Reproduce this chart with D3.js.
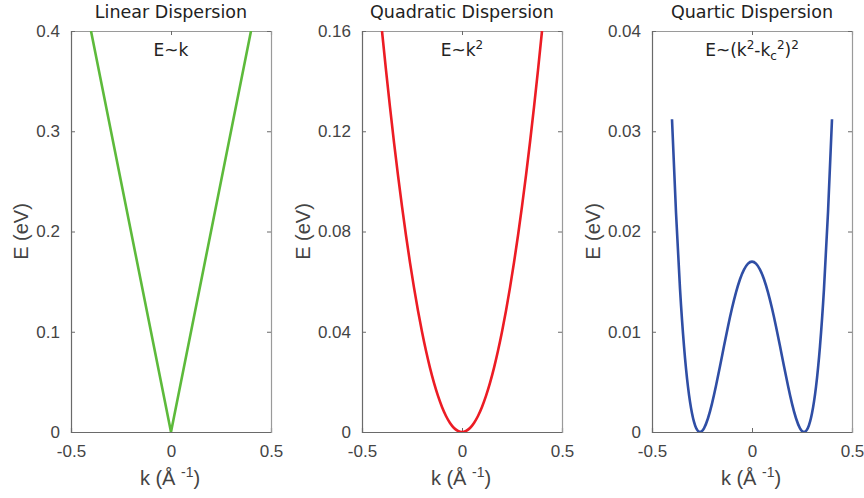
<!DOCTYPE html>
<html><head><meta charset="utf-8">
<script src="https://cdn.jsdelivr.net/npm/d3@7"></script>
<style>body{margin:0;background:#fff}svg{display:block}</style>
</head><body><svg id="c" width="864" height="498"></svg>
<script>
// ---- data ----
const xTicks = [-0.5, 0, 0.5];
const linK = [-0.4, 0, 0.4];
const linE = [0.4, 0, 0.4];
const linYTicks = [0, 0.1, 0.2, 0.3, 0.4];

const quadK = [-0.4,-0.38,-0.36,-0.34,-0.32,-0.3,-0.28,-0.26,-0.24,-0.22,-0.2,-0.18,-0.16,-0.14,-0.12,-0.1,-0.08,-0.06,-0.04,-0.02,0,
               0.02,0.04,0.06,0.08,0.1,0.12,0.14,0.16,0.18,0.2,0.22,0.24,0.26,0.28,0.3,0.32,0.34,0.36,0.38,0.4];
const quadE = [0.16,0.1444,0.1296,0.1156,0.1024,0.09,0.0784,0.0676,0.0576,0.0484,0.04,0.0324,0.0256,0.0196,0.0144,0.01,0.0064,0.0036,0.0016,0.0004,0,
               0.0004,0.0016,0.0036,0.0064,0.01,0.0144,0.0196,0.0256,0.0324,0.04,0.0484,0.0576,0.0676,0.0784,0.09,0.1024,0.1156,0.1296,0.1444,0.16];
const quadYTicks = [0, 0.04, 0.08, 0.12, 0.16];

const quartK = quadK;
const quartE = [0.0312,0.0219,0.0143,0.00857,0.0045,0.00187,0.00043,0,0.00037,0.00137,0.00283,0.00461,0.00656,0.00857,0.01053,0.01234,0.01393,0.01524,0.0162,0.0168,0.0170,
                0.0168,0.0162,0.01524,0.01393,0.01234,0.01053,0.00857,0.00656,0.00461,0.00283,0.00137,0.00037,0,0.00043,0.00187,0.0045,0.00857,0.0143,0.0219,0.0312];
const quartYTicks = [0, 0.01, 0.02, 0.03, 0.04];

const panels = [
  {title: "Linear Dispersion", k: linK, e: linE, yMax: 0.4, yTicks: linYTicks, color: "#5dba3b", ann: "lin", curve: d3.curveLinear},
  {title: "Quadratic Dispersion", k: quadK, e: quadE, yMax: 0.16, yTicks: quadYTicks, color: "#ec1c24", ann: "quad", curve: d3.curveNatural},
  {title: "Quartic Dispersion", k: quartK, e: quartE, yMax: 0.04, yTicks: quartYTicks, color: "#2f4ea5", ann: "quart", curve: d3.curveNatural}
];

// ---- layout ----
const svg = d3.select("#c");
const lefts = [71, 362, 652];
const W = 200, yTop = 31, yBot = 432;
const tickFont = "'Liberation Sans', Arial, Helvetica, sans-serif";
const titleFont = "'DejaVu Sans', Verdana, sans-serif";
const fmt = v => (v === 0 ? "0" : String(v));
const labelColor = "#444";
const tickPad = 11;

panels.forEach((p, i) => {
  const L = lefts[i], R = L + W;
  const x = d3.scaleLinear().domain([-0.5, 0.5]).range([L, R]);
  const y = d3.scaleLinear().domain([0, p.yMax]).range([yBot, yTop]);
  const g = svg.append("g");
  const clipId = "clip" + i;
  svg.append("clipPath").attr("id", clipId).append("rect")
    .attr("x", L).attr("y", yTop).attr("width", W).attr("height", yBot - yTop);

  // axes
  const xa = g.append("g").attr("transform", `translate(0,${yBot})`)
    .call(d3.axisBottom(x).tickValues(xTicks).tickSize(-4).tickPadding(13).tickFormat(fmt));
  const xt = g.append("g").attr("transform", `translate(0,${yTop})`)
    .call(d3.axisTop(x).tickValues(xTicks).tickSize(-4).tickFormat(""));
  const ya = g.append("g").attr("transform", `translate(${L},0)`)
    .call(d3.axisLeft(y).tickValues(p.yTicks).tickSize(-4).tickPadding(tickPad).tickFormat(fmt));
  const yr = g.append("g").attr("transform", `translate(${R},0)`)
    .call(d3.axisRight(y).tickValues(p.yTicks).tickSize(-4).tickFormat(""));
  [xa, ya].forEach(a => {
    a.select(".domain").attr("stroke", "#6a6a6a").attr("stroke-width", 1.2);
    a.selectAll(".tick line").attr("stroke", "#6a6a6a");
    a.selectAll("text").attr("font-family", tickFont).attr("font-size", 17).attr("fill", labelColor);
  });
  [xt, yr].forEach(a => {
    a.select(".domain").attr("stroke", "#9a9a9a").attr("stroke-width", 1.2);
    a.selectAll(".tick line").attr("stroke", "#6a6a6a");
  });
  let maxW = 0;
  ya.selectAll(".tick text").each(function () { maxW = Math.max(maxW, this.getComputedTextLength()); });

  // curve
  const line = d3.line().x(d => x(d[0])).y(d => y(d[1])).curve(p.curve);
  g.append("path").datum(p.k.map((k, j) => [k, p.e[j]]))
    .attr("clip-path", `url(#${clipId})`)
    .attr("d", line).attr("fill", "none").attr("stroke", p.color).attr("stroke-width", 2.6)
    .attr("stroke-linejoin", "round");

  // title
  svg.append("text").attr("x", (L + R) / 2).attr("y", 18).attr("text-anchor", "middle")
    .attr("font-family", titleFont).attr("font-size", 17.5).attr("fill", "#222").text(p.title);

  // annotation
  const a = svg.append("text").attr("x", (L + R) / 2).attr("y", 56).attr("text-anchor", "middle")
    .attr("font-family", titleFont).attr("font-size", 17).attr("fill", "#222");
  const sup = (t) => a.append("tspan").attr("dy", -7).attr("font-size", 12).text(t);
  const down = (t) => a.append("tspan").attr("dy", 7).text(t);
  if (p.ann === "lin") {
    a.text("E~k");
  } else if (p.ann === "quad") {
    a.append("tspan").text("E~k");
    sup("2");
  } else {
    a.append("tspan").text("E~(k");
    sup("2");
    down("-k");
    a.append("tspan").attr("dy", 4).attr("font-size", 12).text("c");
    a.append("tspan").attr("dy", -11).attr("font-size", 12).text("2");
    down(")");
    sup("2");
  }

  // axis labels
  const xl = svg.append("text").attr("x", (L + R) / 2 - 1).attr("y", 485).attr("text-anchor", "middle")
    .attr("font-family", tickFont).attr("font-size", 20).attr("fill", labelColor);
  xl.append("tspan").text("k (Å ");
  xl.append("tspan").attr("dy", -8).attr("font-size", 14).text("-1");
  xl.append("tspan").attr("dy", 8).text(")");

  const off = tickPad + maxW + 8;
  svg.append("text").attr("transform", `translate(${L - off},${(yTop + yBot) / 2}) rotate(-90)`)
    .attr("text-anchor", "middle").attr("font-family", tickFont).attr("font-size", 20)
    .attr("fill", labelColor).text("E (eV)");
});
</script></body></html>
